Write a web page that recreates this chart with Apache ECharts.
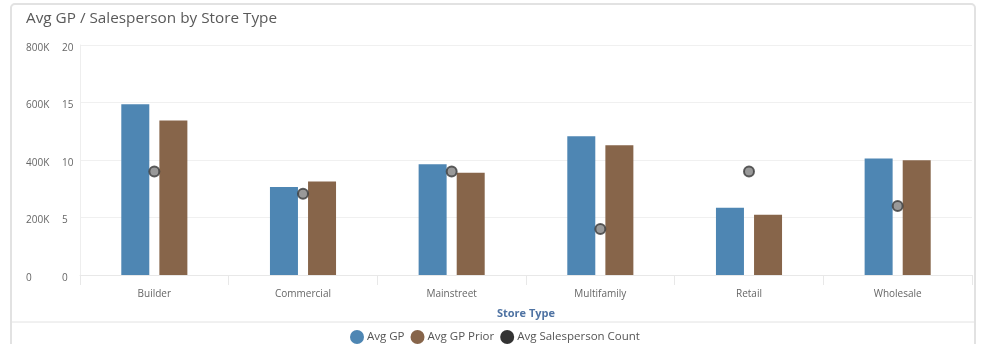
<!DOCTYPE html>
<html>
<head>
<meta charset="utf-8">
<script src="https://cdn.jsdelivr.net/npm/echarts@6/dist/echarts.min.js"></script>
<style>
  html, body { margin: 0; padding: 0; background: #fff; }
  #card { position: absolute; left: 10px; top: 3px; width: 966px; height: 360px;
          border: 2px solid #e2e2e2; border-radius: 5px; box-sizing: border-box; }
  #main { position: absolute; left: 0; top: 0; width: 984px; height: 344px; }
</style>
</head>
<body>
<div id="card"></div>
<div id="main"></div>
<script>
// chart data
var storeTypes = ['Builder', 'Commercial', 'Mainstreet', 'Multifamily', 'Retail', 'Wholesale'];
var avgGP = [594000, 306000, 385000, 483000, 234000, 405000];
var avgGPPrior = [537000, 325000, 356000, 451000, 210000, 399000];
var avgSalesCount = [9.0, 7.07, 9.0, 4.0, 9.0, 6.0];

var myChart = echarts.init(document.getElementById('main'));

var option = {
  animation: false,
  textStyle: { fontFamily: 'Open Sans' },
  title: {
    text: 'Avg GP / Salesperson by Store Type',
    left: 21,
    top: 6,
    textStyle: { fontSize: 15.3, fontWeight: 'normal', color: '#595959', fontFamily: 'Open Sans' }
  },
  legend: {
    left: 345,
    top: 325,
    itemWidth: 14,
    itemHeight: 14,
    itemGap: 6,
    icon: 'circle',
    textStyle: { fontSize: 11.5, color: '#555', fontFamily: 'Open Sans', padding: [0, 0, 0, -2] },
    data: [
      { name: 'Avg GP' },
      { name: 'Avg GP Prior' },
      { name: 'Avg Salesperson Count', itemStyle: { color: '#000', borderWidth: 0 } }
    ]
  },
  grid: { left: 80, right: 12, top: 45, bottom: 69 },
  graphic: [{
    type: 'line',
    shape: { x1: 11, y1: 322, x2: 975, y2: 322 },
    style: { stroke: '#e2e2e2', lineWidth: 1 }
  }],
  xAxis: {
    type: 'category',
    data: storeTypes,
    axisLine: { lineStyle: { color: '#e8e8e8' } },
    axisTick: { show: true, length: 10, lineStyle: { color: '#e8e8e8' } },
    axisLabel: { fontSize: 10, color: '#666', margin: 14 },
    name: 'Store Type',
    nameLocation: 'middle',
    nameGap: 33,
    nameTextStyle: { fontSize: 11, fontWeight: 'bold', color: '#4f73a3' }
  },
  yAxis: [{
    type: 'value',
    min: 0,
    max: 800000,
    interval: 200000,
    position: 'left',
    axisLine: { show: true, lineStyle: { color: '#eeeeee' } },
    axisTick: { show: false },
    splitLine: { lineStyle: { color: '#f0f0f0' } },
    axisLabel: {
      align: 'left',
      verticalAlign: 'top',
      lineHeight: 6,
      margin: 54,
      fontSize: 10,
      color: '#666',
      formatter: function (v) { return v === 0 ? '0' : (v / 1000) + 'K'; }
    }
  }, {
    type: 'value',
    min: 0,
    max: 20,
    interval: 5,
    position: 'left',
    axisLine: { show: false },
    axisTick: { show: false },
    splitLine: { show: false },
    axisLabel: { align: 'left', verticalAlign: 'top', lineHeight: 6, margin: 18, fontSize: 10, color: '#666' }
  }],
  series: [{
    name: 'Avg GP',
    type: 'bar',
    data: avgGP,
    barWidth: 28,
    barGap: '36%',
    itemStyle: { color: '#4e86b3' }
  }, {
    name: 'Avg GP Prior',
    type: 'bar',
    data: avgGPPrior,
    barWidth: 28,
    barGap: '36%',
    itemStyle: { color: '#87654a' }
  }, {
    name: 'Avg Salesperson Count',
    type: 'scatter',
    yAxisIndex: 1,
    data: avgSalesCount,
    symbol: 'circle',
    symbolSize: 10,
    z: 5,
    itemStyle: { color: '#808080', borderColor: '#3a3a3a', borderWidth: 2 }
  }]
};

myChart.setOption(option);
</script>
</body>
</html>
